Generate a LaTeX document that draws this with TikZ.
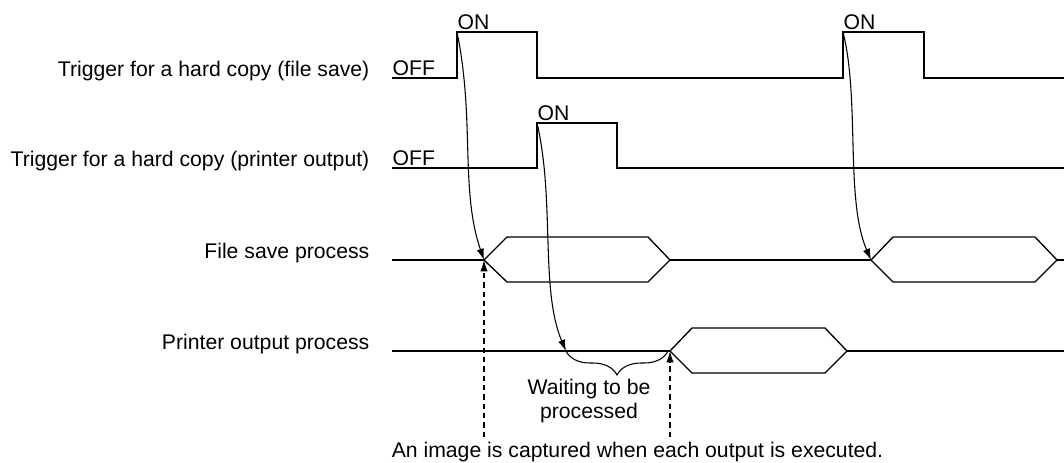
\documentclass[tikz,border=0pt]{standalone}
\usepackage{fontspec}
\setmainfont{Liberation Sans}
\usetikzlibrary{arrows.meta,decorations.pathreplacing}

\begin{document}
\begin{tikzpicture}[x=0.75pt, y=-0.75pt, line width=1pt,
  >={Latex[length=8.5pt,width=5.5pt]},
  every node/.style={font=\fontsize{15.9}{17.3}\selectfont, inner sep=0pt},
  rowlabel/.style={anchor=base east},
  level/.style={anchor=base west},
  trig/.style={->, line width=0.8pt},
  capt/.style={->, line width=0.8pt, dash pattern=on 4pt off 3pt}]
  \useasboundingbox (0,0) rectangle (1064,462);
  % row labels
  \node[rowlabel] (lbfilesave) at (370,76) {Trigger for a hard copy (file save)};
  \node[rowlabel] (lbprinter) at (370,166) {Trigger for a hard copy (printer output)};
  \node[rowlabel] (lbsave) at (370,258) {File save process};
  \node[rowlabel] (lbprint) at (370,349) {Printer output process};
  % trigger (file save)
  \draw (392,78) -- (457,78) -- (457,32) -- (537,32) -- (537,78) -- (843,78) -- (843,32) -- (924,32) -- (924,78) -- (1064,78);
  \node[level] (offsave) at (392,75) {OFF};
  \node[level] (onsave) at (457,29) {ON};
  \node[level] (onsavetwo) at (843,29) {ON};
  % trigger (printer output)
  \draw (392,168) -- (537,168) -- (537,123) -- (617,123) -- (617,168) -- (1064,168);
  \node[level] (offprint) at (392,165) {OFF};
  \node[level] (onprint) at (537,120) {ON};
  % file save process
  \draw (392,260) -- (484,260) (670,260) -- (871,260) (1057,260) -- (1064,260);
  \draw (484,260) -- (507,237) -- (648,237) -- (670,260) -- (648,282) -- (507,282) -- cycle;
  \draw (871,260) -- (893,237) -- (1035,237) -- (1057,260) -- (1035,282) -- (893,282) -- cycle;
  % printer output process
  \draw (392,351) -- (670,351) (847,351) -- (1064,351);
  \draw (670,351) -- (692,328) -- (825,328) -- (847,351) -- (825,373) -- (692,373) -- cycle;
  % points
  \coordinate (risesave) at (457,32);
  \coordinate (risesavetwo) at (843,32);
  \coordinate (riseprint) at (537,123);
  \coordinate (startsave) at (484,260);
  \coordinate (startsavetwo) at (871,260);
  \coordinate (waitstart) at (566,351);
  \coordinate (waitend) at (668,351);
  \coordinate (startprint) at (670,351);
  \coordinate (capsave) at (484,437);
  \coordinate (capprint) at (670,437);
  % trigger arrows
  \draw[trig] (risesave) .. controls (475,120) and (460,190) .. (startsave);
  \draw[trig] (riseprint) .. controls (555,200) and (540,290) .. (waitstart);
  \draw[trig] (risesavetwo) .. controls (860,100) and (845,200) .. (startsavetwo);
  % waiting
  \draw[line width=0.8pt, decorate, decoration={brace, mirror, amplitude=18pt}] (waitstart) -- (waitend);
  \node[align=center, anchor=base] (waitnote) at (589,418) {Waiting to be\\processed};
  % capture
  \draw[capt] (capsave) -- (startsave);
  \draw[capt] (capprint) -- (startprint);
  \node[anchor=base] (capnote) at (637.5,457) {An image is captured when each output is executed.};
\end{tikzpicture}
\end{document}
